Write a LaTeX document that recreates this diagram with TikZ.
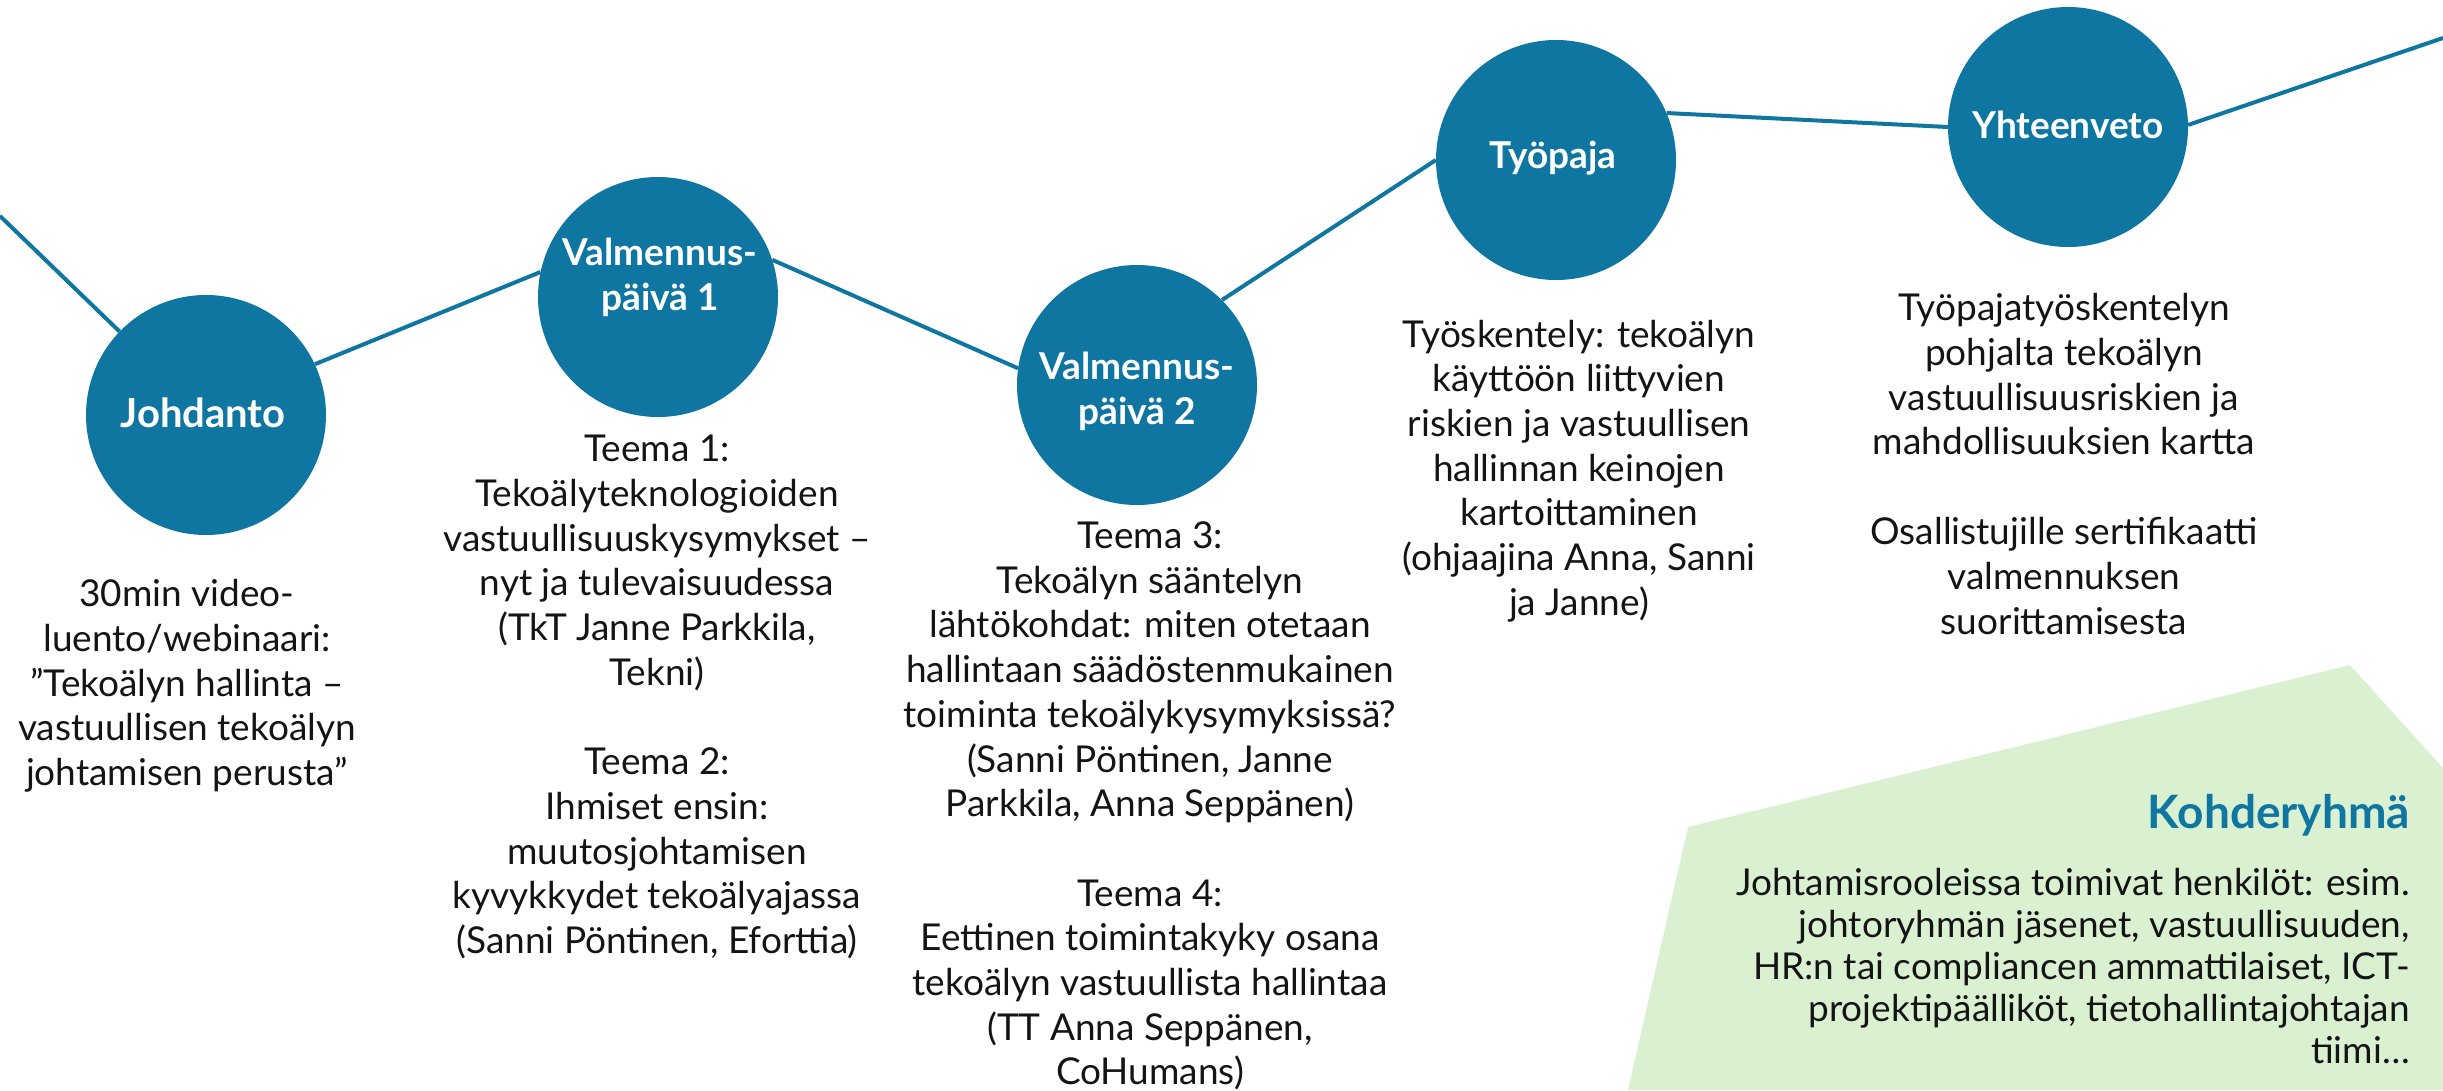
\documentclass[tikz,border=0pt]{standalone}
\usepackage{fontspec}
\setmainfont{Lato}
\definecolor{tblue}{RGB}{14,118,160}
\definecolor{tgreen}{RGB}{218,241,209}
\definecolor{ttext}{RGB}{20,20,20}
\begin{document}
\begin{tikzpicture}[x=1pt,y=-1pt,
  stage/.style={circle, fill=tblue, minimum size=240pt, inner sep=0pt},
  stagelabel/.style={text=white, font=\bfseries\fontsize{37}{45}\selectfont, align=center, inner sep=0pt},
  desc/.style={align=center, font=\fontsize{37}{44.7}\selectfont, inner sep=0pt, text=ttext},
  link/.style={draw=tblue, line width=4pt}]
\useasboundingbox (0,0) rectangle (2443,1090);
% green target-group area
\fill[tgreen] (1628,1090) -- (1688,827) -- (2350,665) -- (2443,768) -- (2443,1090) -- cycle;
% circles
\node[stage] (J) at (206,415) {};
\node[stage] (V1) at (658,297) {};
\node[stage] (V2) at (1137,385) {};
\node[stage] (T) at (1556,160) {};
\node[stage] (Y) at (2068,127) {};
\coordinate (lstart) at (0,216);
\coordinate (rend) at (2443,38);
% connectors
\draw[link] (lstart) -- (J.136);
\draw[link] (J.25) -- (V1.168);
\draw[link] (V1.18) -- (V2.172);
\draw[link] (V2.45) -- (T.180);
\draw[link] (T.23) -- (Y.180);
\draw[link] (Y.1) -- (rend);
% labels
\node[stagelabel, font=\bfseries\fontsize{40}{46}\selectfont] (Jl) at (203,413) {Johdanto};
\node[stagelabel] (V1l) at (660,277) {Valmennus-\\päivä 1};
\node[stagelabel] (V2l) at (1137,391) {Valmennus-\\päivä 2};
\node[stagelabel] (Tl) at (1553,158) {Työpaja};
\node[stagelabel] (Yl) at (2068,125) {Yhteenveto};
% descriptions
\node[desc] (Jd) at (187,686) {30min video-\\luento/webinaari:\\”Tekoälyn hallinta –\\vastuullisen tekoälyn\\johtamisen perusta”};
\node[desc] (V1d) at (657,697) {Teema 1:\\Tekoälyteknologioiden\\vastuullisuuskysymykset –\\nyt ja tulevaisuudessa\\(TkT Janne Parkkila,\\Tekni)\\[44.7pt]Teema 2:\\Ihmiset ensin:\\muutosjohtamisen\\kyvykkydet tekoälyajassa\\(Sanni Pöntinen, Eforttia)};
\node[desc] (V2d) at (1150,806) {Teema 3:\\Tekoälyn sääntelyn\\lähtökohdat: miten otetaan\\hallintaan säädöstenmukainen\\toiminta tekoälykysymyksissä?\\(Sanni Pöntinen, Janne\\Parkkila, Anna Seppänen)\\[44.7pt]Teema 4:\\Eettinen toimintakyky osana\\tekoälyn vastuullista hallintaa\\(TT Anna Seppänen,\\CoHumans)};
\node[desc] (Td) at (1579,471) {Työskentely: tekoälyn\\käyttöön liittyvien\\riskien ja vastuullisen\\hallinnan keinojen\\kartoittaminen\\(ohjaajina Anna, Sanni\\ja Janne)};
\node[desc] (Yd) at (2064,464) {Työpajatyöskentelyn\\pohjalta tekoälyn\\vastuullisuusriskien ja\\mahdollisuuksien kartta\\[45pt]Osallistujille sertifikaatti\\valmennuksen\\suorittamisesta};
% target group
\node[anchor=east, inner sep=0pt, text=tblue, font=\bfseries\fontsize{46}{52}\selectfont] (Kt) at (2410,815) {Kohderyhmä};
\node[anchor=east, align=right, inner sep=0pt, text=ttext, font=\fontsize{37}{42}\selectfont] (Kd) at (2410,966) {Johtamisrooleissa toimivat henkilöt: esim.\\johtoryhmän jäsenet, vastuullisuuden,\\HR:n tai compliancen ammattilaiset, ICT-\\projektipäälliköt, tietohallintajohtajan\\tiimi…};
\end{tikzpicture}
\end{document}
